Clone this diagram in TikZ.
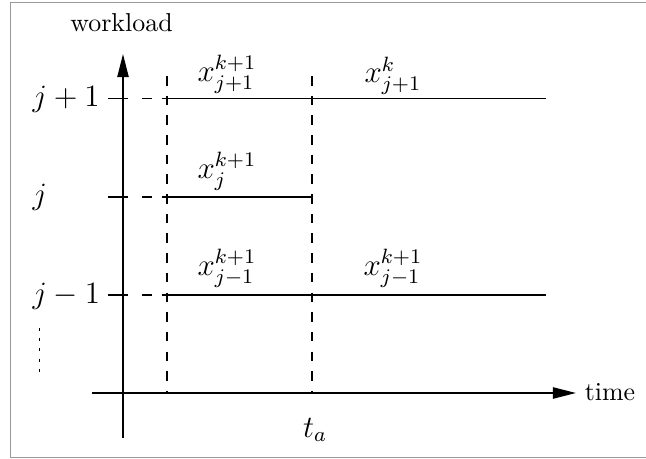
\documentclass[tikz,border=0pt]{standalone}
\usetikzlibrary{arrows.meta}
\begin{document}
\begin{tikzpicture}[x=0.3861pt,y=-0.3861pt,
  axis/.style={line width=0.75pt,-{Triangle[length=8.9pt,width=4.3pt]}},
  level/.style={line width=0.6pt},
  guide/.style={line width=0.4pt,dash pattern=on 3.7pt off 3.9pt},
  lab/.style={font=\large,inner sep=0pt,anchor=base},
  ylab/.style={font=\large,inner sep=0pt,anchor=base west},
  txt/.style={inner sep=0pt,anchor=base}]
\useasboundingbox (0,0) rectangle (646,459);
\draw[black!40,line width=0.45pt] (646,2.5) -- (10.5,2.5) -- (10.5,457.5) -- (646,457.5);
% axes
\coordinate (ytop) at (123,54);
\coordinate (ybot) at (123,438);
\coordinate (xl) at (92,393);
\coordinate (xr) at (576,393);
\draw[axis] (ybot) -- (ytop);
\draw[axis] (xl) -- (xr);
\node[txt] (wl) at (121.5,32) {workload};
\node[txt] (time) at (610,401) {time};
% guides
\coordinate (g1t) at (167,76);
\coordinate (g1b) at (167,391);
\coordinate (g2t) at (312,76);
\coordinate (g2b) at (312,391);
\draw[guide] (g1t) -- (g1b);
\draw[guide] (g2t) -- (g2b);
% levels
\foreach \yy/\xe in {98.7/546,197/312,295/546}{
  \draw[level] (108,\yy) -- (128,\yy);
  \draw[guide] (142,\yy) -- (167,\yy);
  \draw[level] (167,\yy) -- (\xe,\yy);
}
% y labels
\node[ylab] (l1) at (32,106.5) {$j+1$};
\node[ylab] (l2) at (32,205) {$j$};
\node[ylab] (l3) at (32,303.5) {$j-1$};
\draw[line width=0.6pt,dash pattern=on 1.1pt off 2.85pt] (39.5,328) -- (39.5,372);
% x labels
\node[lab] (a1) at (227,82) {$x^{k+1}_{j+1}$};
\node[lab] (a2) at (393,82.5) {$x^{k}_{j+1}$};
\node[lab] (b1) at (227,179) {$x^{k+1}_{j}$};
\node[lab] (c1) at (227,276) {$x^{k+1}_{j-1}$};
\node[lab] (c2) at (393,276) {$x^{k+1}_{j-1}$};
\node[lab] (ta) at (315,437) {$t_a$};
\end{tikzpicture}
\end{document}
